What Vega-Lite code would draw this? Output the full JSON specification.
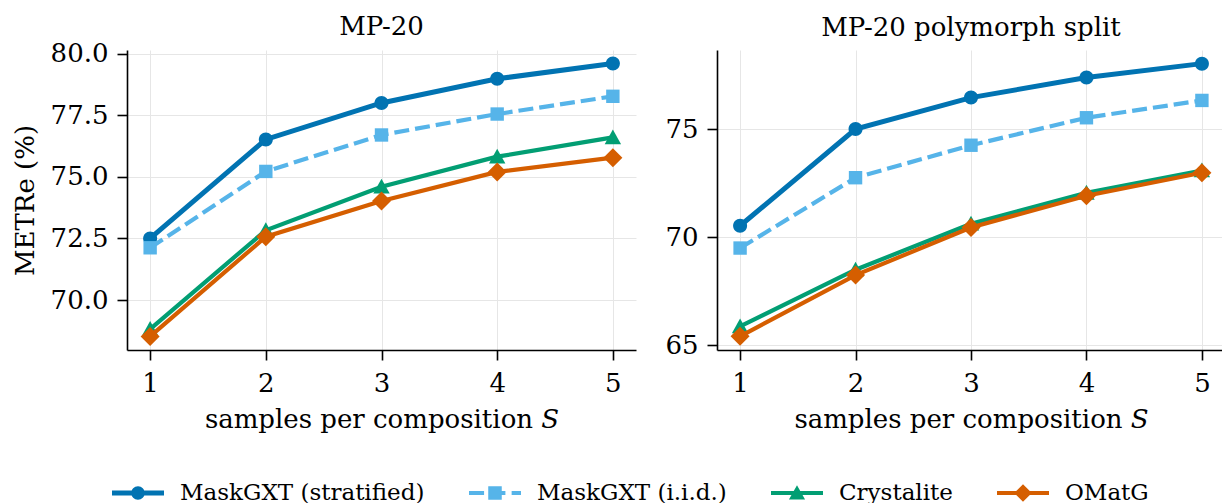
{
  "$schema": "https://vega.github.io/schema/vega-lite/v6.json",
  "padding": {"left": 12, "top": 13, "right": 0, "bottom": 0},
  "background": "white",
  "config": {
    "font": "DejaVu Serif",
    "view": {"stroke": null},
    "axis": {
      "labelFont": "DejaVu Serif", "labelFontSize": 26, "labelColor": "#000000",
      "titleFont": "DejaVu Serif", "titleFontSize": 26, "titleFontWeight": "normal", "titleColor": "#000000",
      "domainColor": "#000000", "domainWidth": 1.6, "tickColor": "#000000", "tickWidth": 1.6, "tickSize": 10,
      "gridColor": "#e6e6e6", "gridWidth": 1, "labelPadding": 9, "labelFlush": false
    },
    "title": {"font": "DejaVu Serif", "fontSize": 26, "fontWeight": "normal", "color": "#000000"},
    "legend": {
      "labelFont": "DejaVu Serif", "labelFontSize": 23, "labelColor": "#000000", "labelLimit": 500
    }
  },
  "data": {"values": [
    {"panel": "MP-20", "series": "MaskGXT (stratified)", "S": 1, "value": 72.5},
    {"panel": "MP-20", "series": "MaskGXT (stratified)", "S": 2, "value": 76.52},
    {"panel": "MP-20", "series": "MaskGXT (stratified)", "S": 3, "value": 78.0},
    {"panel": "MP-20", "series": "MaskGXT (stratified)", "S": 4, "value": 78.98},
    {"panel": "MP-20", "series": "MaskGXT (stratified)", "S": 5, "value": 79.6},
    {"panel": "MP-20", "series": "MaskGXT (i.i.d.)", "S": 1, "value": 72.12},
    {"panel": "MP-20", "series": "MaskGXT (i.i.d.)", "S": 2, "value": 75.22},
    {"panel": "MP-20", "series": "MaskGXT (i.i.d.)", "S": 3, "value": 76.7},
    {"panel": "MP-20", "series": "MaskGXT (i.i.d.)", "S": 4, "value": 77.55},
    {"panel": "MP-20", "series": "MaskGXT (i.i.d.)", "S": 5, "value": 78.27},
    {"panel": "MP-20", "series": "Crystalite", "S": 1, "value": 68.82},
    {"panel": "MP-20", "series": "Crystalite", "S": 2, "value": 72.83},
    {"panel": "MP-20", "series": "Crystalite", "S": 3, "value": 74.6},
    {"panel": "MP-20", "series": "Crystalite", "S": 4, "value": 75.82},
    {"panel": "MP-20", "series": "Crystalite", "S": 5, "value": 76.6},
    {"panel": "MP-20", "series": "OMatG", "S": 1, "value": 68.52},
    {"panel": "MP-20", "series": "OMatG", "S": 2, "value": 72.57},
    {"panel": "MP-20", "series": "OMatG", "S": 3, "value": 74.02},
    {"panel": "MP-20", "series": "OMatG", "S": 4, "value": 75.2},
    {"panel": "MP-20", "series": "OMatG", "S": 5, "value": 75.78},
    {"panel": "poly", "series": "MaskGXT (stratified)", "S": 1, "value": 70.53},
    {"panel": "poly", "series": "MaskGXT (stratified)", "S": 2, "value": 75.0},
    {"panel": "poly", "series": "MaskGXT (stratified)", "S": 3, "value": 76.45},
    {"panel": "poly", "series": "MaskGXT (stratified)", "S": 4, "value": 77.38},
    {"panel": "poly", "series": "MaskGXT (stratified)", "S": 5, "value": 78.02},
    {"panel": "poly", "series": "MaskGXT (i.i.d.)", "S": 1, "value": 69.5},
    {"panel": "poly", "series": "MaskGXT (i.i.d.)", "S": 2, "value": 72.75},
    {"panel": "poly", "series": "MaskGXT (i.i.d.)", "S": 3, "value": 74.25},
    {"panel": "poly", "series": "MaskGXT (i.i.d.)", "S": 4, "value": 75.52},
    {"panel": "poly", "series": "MaskGXT (i.i.d.)", "S": 5, "value": 76.32},
    {"panel": "poly", "series": "Crystalite", "S": 1, "value": 65.88},
    {"panel": "poly", "series": "Crystalite", "S": 2, "value": 68.5},
    {"panel": "poly", "series": "Crystalite", "S": 3, "value": 70.62},
    {"panel": "poly", "series": "Crystalite", "S": 4, "value": 72.05},
    {"panel": "poly", "series": "Crystalite", "S": 5, "value": 73.08},
    {"panel": "poly", "series": "OMatG", "S": 1, "value": 65.42},
    {"panel": "poly", "series": "OMatG", "S": 2, "value": 68.25},
    {"panel": "poly", "series": "OMatG", "S": 3, "value": 70.45},
    {"panel": "poly", "series": "OMatG", "S": 4, "value": 71.92},
    {"panel": "poly", "series": "OMatG", "S": 5, "value": 72.98}
  ]},
  "spacing": 28,
  "hconcat": [
    {
      "title": {"text": "MP-20", "offset": 1},
      "width": 509, "height": 300,
      "transform": [{"filter": "datum.panel === 'MP-20'"}],
      "encoding": {
        "x": {"field": "S", "type": "quantitative", "scale": {"domain": [0.8, 5.2], "nice": false, "zero": false},
              "axis": {"values": [1, 2, 3, 4, 5], "format": "d", "title": "samples per composition 𝑆", "titlePadding": 10, "labelPadding": 10}},
        "y": {"field": "value", "type": "quantitative", "scale": {"domain": [67.97, 80.15], "nice": false, "zero": false},
              "axis": {"values": [70, 72.5, 75, 77.5, 80], "format": ".1f", "title": "METRe (%)", "titlePadding": 12}},
        "color": {"field": "series", "type": "nominal",
                  "scale": {"domain": ["MaskGXT (stratified)", "MaskGXT (i.i.d.)", "Crystalite", "OMatG"],
                            "range": ["#0173b2", "#56b4e9", "#029e73", "#d55e00"]},
                  "legend": {
                    "title": null, "orient": "none", "direction": "horizontal", "legendX": -15, "legendY": 417,
                    "symbolSize": 2704, "labelOffset": 16, "columnPadding": 44,
                    "encode": {"symbols": {"update": {
                      "shape": {"signal": "datum.value === 'MaskGXT (stratified)' ? 'M-1,-0.1H1V0.1H-1ZM-0.26,0A0.26,0.26 0 1,1 0.26,0A0.26,0.26 0 1,1 -0.26,0Z' : datum.value === 'MaskGXT (i.i.d.)' ? 'M-1,-0.08H-0.42V0.08H-1ZM-0.18,-0.08H0.4V0.08H-0.18ZM0.64,-0.08H1V0.08H0.64ZM-0.26,-0.26H0.26V0.26H-0.26Z' : datum.value === 'Crystalite' ? 'M-1,-0.08H1V0.08H-1ZM0,-0.3L0.31,0.25L-0.31,0.25Z' : 'M-1,-0.08H1V0.08H-1ZM0,-0.34L0.34,0L0,0.34L-0.34,0Z'"},
                      "fill": {"signal": "datum.value === 'MaskGXT (stratified)' ? '#0173b2' : datum.value === 'MaskGXT (i.i.d.)' ? '#56b4e9' : datum.value === 'Crystalite' ? '#029e73' : '#d55e00'"},
                      "stroke": {"value": "transparent"},
                      "strokeWidth": {"value": 0},
                      "strokeDash": {"value": [1, 0]},
                      "size": {"value": 2704},
                      "opacity": {"value": 1}
                    }}}
                  }}
      },
      "layer": [
        {"transform": [{"filter": "datum.series === 'MaskGXT (stratified)'"}],
         "mark": {"type": "line", "strokeWidth": 5, "point": {"shape": "M-0.7,0A0.7,0.7 0 1,1 0.7,0A0.7,0.7 0 1,1 -0.7,0Z", "size": 400, "filled": true, "opacity": 1}}},
        {"transform": [{"filter": "datum.series === 'MaskGXT (i.i.d.)'"}],
         "mark": {"type": "line", "strokeWidth": 4.2, "strokeDash": [15, 6], "point": {"shape": "M-0.67,-0.67H0.67V0.67H-0.67Z", "size": 400, "filled": true, "opacity": 1}}},
        {"transform": [{"filter": "datum.series === 'Crystalite'"}],
         "mark": {"type": "line", "strokeWidth": 4.2, "point": {"shape": "M0,-0.8L0.82,0.68L-0.82,0.68Z", "size": 400, "filled": true, "opacity": 1}}},
        {"transform": [{"filter": "datum.series === 'OMatG'"}],
         "mark": {"type": "line", "strokeWidth": 4.2, "point": {"shape": "M0,-0.95L0.95,0L0,0.95L-0.95,0Z", "size": 400, "filled": true, "opacity": 1}}}
      ]
    },
    {
      "title": {"text": "MP-20 polymorph split", "offset": 9},
      "width": 508, "height": 300,
      "transform": [{"filter": "datum.panel === 'poly'"}],
      "encoding": {
        "x": {"field": "S", "type": "quantitative", "scale": {"domain": [0.8, 5.2], "nice": false, "zero": false},
              "axis": {"values": [1, 2, 3, 4, 5], "format": "d", "title": "samples per composition 𝑆", "titlePadding": 10, "labelPadding": 10}},
        "y": {"field": "value", "type": "quantitative", "scale": {"domain": [64.79, 78.65], "nice": false, "zero": false},
              "axis": {"values": [65, 70, 75], "format": "d", "title": null}},
        "color": {"field": "series", "type": "nominal",
                  "scale": {"domain": ["MaskGXT (stratified)", "MaskGXT (i.i.d.)", "Crystalite", "OMatG"],
                            "range": ["#0173b2", "#56b4e9", "#029e73", "#d55e00"]}}
      },
      "layer": [
        {"transform": [{"filter": "datum.series === 'MaskGXT (stratified)'"}],
         "mark": {"type": "line", "strokeWidth": 5, "point": {"shape": "M-0.7,0A0.7,0.7 0 1,1 0.7,0A0.7,0.7 0 1,1 -0.7,0Z", "size": 400, "filled": true, "opacity": 1}}},
        {"transform": [{"filter": "datum.series === 'MaskGXT (i.i.d.)'"}],
         "mark": {"type": "line", "strokeWidth": 4.2, "strokeDash": [15, 6], "point": {"shape": "M-0.67,-0.67H0.67V0.67H-0.67Z", "size": 400, "filled": true, "opacity": 1}}},
        {"transform": [{"filter": "datum.series === 'Crystalite'"}],
         "mark": {"type": "line", "strokeWidth": 4.2, "point": {"shape": "M0,-0.8L0.82,0.68L-0.82,0.68Z", "size": 400, "filled": true, "opacity": 1}}},
        {"transform": [{"filter": "datum.series === 'OMatG'"}],
         "mark": {"type": "line", "strokeWidth": 4.2, "point": {"shape": "M0,-0.95L0.95,0L0,0.95L-0.95,0Z", "size": 400, "filled": true, "opacity": 1}}}
      ]
    }
  ]
}
